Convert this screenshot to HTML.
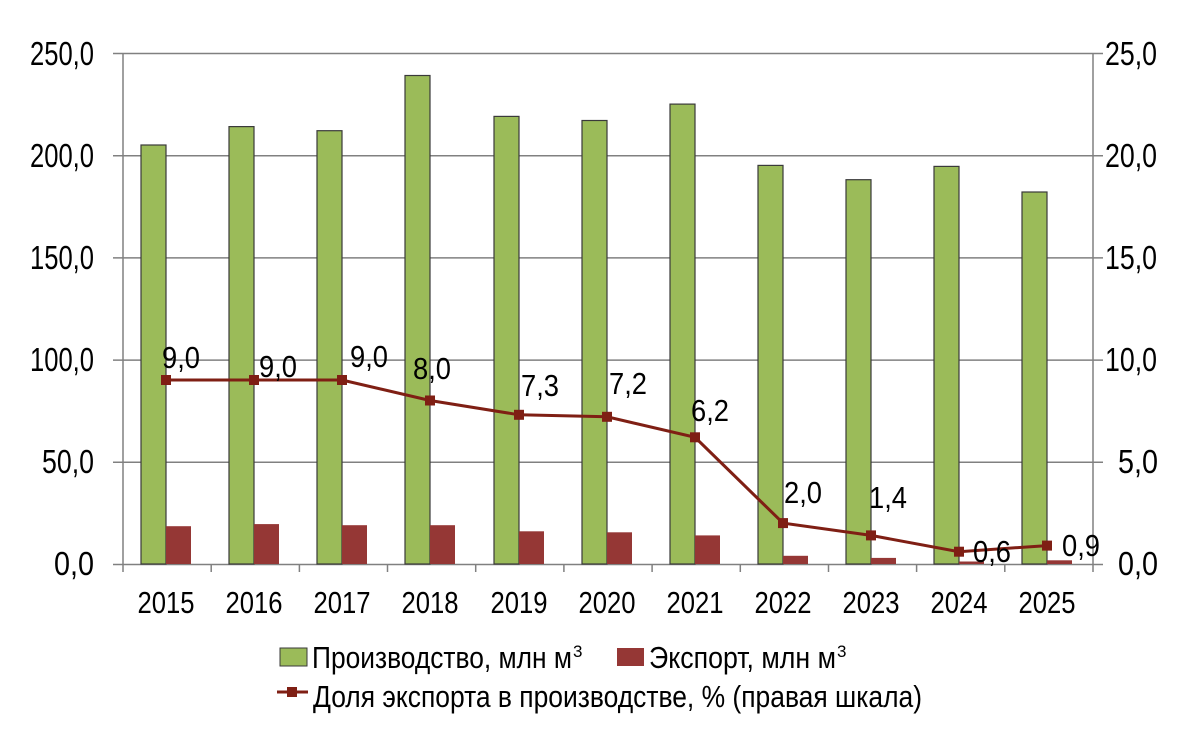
<!DOCTYPE html>
<html><head><meta charset="utf-8"><style>body{margin:0;background:#fff}svg{display:block}text{font-family:"Liberation Sans",sans-serif;fill:#000}</style></head>
<body>
<svg width="1200" height="730" viewBox="0 0 1200 730" xmlns="http://www.w3.org/2000/svg">
<g stroke="#808080" stroke-width="1.5">
<line x1="113" y1="53.5" x2="1103" y2="53.5"/>
<line x1="113" y1="155.7" x2="1103" y2="155.7"/>
<line x1="113" y1="257.9" x2="1103" y2="257.9"/>
<line x1="113" y1="360.1" x2="1103" y2="360.1"/>
<line x1="113" y1="462.3" x2="1103" y2="462.3"/>
<line x1="113" y1="564.5" x2="1103" y2="564.5"/>
<line x1="123" y1="53" x2="123" y2="572"/>
<line x1="1093" y1="53" x2="1093" y2="572"/>
<line x1="211.2" y1="564" x2="211.2" y2="572"/><line x1="299.4" y1="564" x2="299.4" y2="572"/><line x1="387.5" y1="564" x2="387.5" y2="572"/><line x1="475.7" y1="564" x2="475.7" y2="572"/><line x1="563.9" y1="564" x2="563.9" y2="572"/><line x1="652.1" y1="564" x2="652.1" y2="572"/><line x1="740.3" y1="564" x2="740.3" y2="572"/><line x1="828.5" y1="564" x2="828.5" y2="572"/><line x1="916.6" y1="564" x2="916.6" y2="572"/><line x1="1004.8" y1="564" x2="1004.8" y2="572"/>
</g>
<g stroke="#3a3a3a" stroke-width="1.2" fill="#9bbb59">
<rect x="141" y="145.0" width="25" height="419"/>
<rect x="229" y="126.6" width="25" height="437.4"/>
<rect x="317" y="130.7" width="25" height="433.3"/>
<rect x="405" y="75.5" width="25" height="488.5"/>
<rect x="494" y="116.4" width="25" height="447.6"/>
<rect x="582" y="120.5" width="25" height="443.5"/>
<rect x="670" y="104.1" width="25" height="459.9"/>
<rect x="758" y="165.4" width="25" height="398.6"/>
<rect x="846" y="179.7" width="25" height="384.3"/>
<rect x="934" y="166.4" width="25" height="397.6"/>
<rect x="1022" y="192.0" width="25" height="372"/>
</g>
<g fill="#953735">
<rect x="166" y="526.2" width="25" height="37.8"/>
<rect x="254" y="524.1" width="25" height="39.9"/>
<rect x="342" y="525.2" width="25" height="38.8"/>
<rect x="430" y="525.2" width="25" height="38.8"/>
<rect x="519" y="531.3" width="25" height="32.7"/>
<rect x="607" y="532.3" width="25" height="31.7"/>
<rect x="695" y="535.4" width="25" height="28.6"/>
<rect x="783" y="555.8" width="25" height="8.2"/>
<rect x="871" y="557.9" width="25" height="6.1"/>
<rect x="959" y="561.5" width="25" height="2.5"/>
<rect x="1047" y="560.3" width="25" height="3.7"/>
</g>
<polyline fill="none" stroke="#7f1f14" stroke-width="3" points="166,380 254,380 342,380 430,400.5 519,414.8 607,416.8 695,437.3 783,523.1 871,535.4 959,551.7 1047,545.6"/>
<g fill="#7f1f14">
<rect x="161" y="375" width="10" height="10"/><rect x="249" y="375" width="10" height="10"/><rect x="337" y="375" width="10" height="10"/><rect x="425" y="395.5" width="10" height="10"/><rect x="514" y="409.8" width="10" height="10"/><rect x="602" y="411.8" width="10" height="10"/><rect x="690" y="432.3" width="10" height="10"/><rect x="778" y="518.1" width="10" height="10"/><rect x="866" y="530.4" width="10" height="10"/><rect x="954" y="546.7" width="10" height="10"/><rect x="1042" y="540.6" width="10" height="10"/>
</g>
<g font-size="33">
<text x="94" y="65" text-anchor="end" textLength="64" lengthAdjust="spacingAndGlyphs">250,0</text>
<text x="94" y="167" text-anchor="end" textLength="64" lengthAdjust="spacingAndGlyphs">200,0</text>
<text x="94" y="269" text-anchor="end" textLength="64" lengthAdjust="spacingAndGlyphs">150,0</text>
<text x="94" y="371" text-anchor="end" textLength="64" lengthAdjust="spacingAndGlyphs">100,0</text>
<text x="94" y="473" text-anchor="end" textLength="52" lengthAdjust="spacingAndGlyphs">50,0</text>
<text x="94" y="575" text-anchor="end" textLength="40" lengthAdjust="spacingAndGlyphs">0,0</text>
<text x="1105" y="65" textLength="52" lengthAdjust="spacingAndGlyphs">25,0</text>
<text x="1105" y="167" textLength="52" lengthAdjust="spacingAndGlyphs">20,0</text>
<text x="1105" y="269" textLength="52" lengthAdjust="spacingAndGlyphs">15,0</text>
<text x="1105" y="371" textLength="52" lengthAdjust="spacingAndGlyphs">10,0</text>
<text x="1118" y="473" textLength="40" lengthAdjust="spacingAndGlyphs">5,0</text>
<text x="1118" y="575" textLength="40" lengthAdjust="spacingAndGlyphs">0,0</text>
</g>
<g font-size="31" text-anchor="middle">
<text x="166" y="613" textLength="57" lengthAdjust="spacingAndGlyphs">2015</text>
<text x="254" y="613" textLength="57" lengthAdjust="spacingAndGlyphs">2016</text>
<text x="342" y="613" textLength="57" lengthAdjust="spacingAndGlyphs">2017</text>
<text x="430" y="613" textLength="57" lengthAdjust="spacingAndGlyphs">2018</text>
<text x="519" y="613" textLength="57" lengthAdjust="spacingAndGlyphs">2019</text>
<text x="607" y="613" textLength="57" lengthAdjust="spacingAndGlyphs">2020</text>
<text x="695" y="613" textLength="57" lengthAdjust="spacingAndGlyphs">2021</text>
<text x="783" y="613" textLength="57" lengthAdjust="spacingAndGlyphs">2022</text>
<text x="871" y="613" textLength="57" lengthAdjust="spacingAndGlyphs">2023</text>
<text x="959" y="613" textLength="57" lengthAdjust="spacingAndGlyphs">2024</text>
<text x="1047" y="613" textLength="57" lengthAdjust="spacingAndGlyphs">2025</text>
</g>
<g font-size="31">
<text x="162" y="368" textLength="38" lengthAdjust="spacingAndGlyphs">9,0</text>
<text x="259" y="377" textLength="38" lengthAdjust="spacingAndGlyphs">9,0</text>
<text x="350" y="367" textLength="38" lengthAdjust="spacingAndGlyphs">9,0</text>
<text x="413" y="379" textLength="38" lengthAdjust="spacingAndGlyphs">8,0</text>
<text x="521" y="396" textLength="38" lengthAdjust="spacingAndGlyphs">7,3</text>
<text x="609" y="394" textLength="38" lengthAdjust="spacingAndGlyphs">7,2</text>
<text x="691" y="421" textLength="38" lengthAdjust="spacingAndGlyphs">6,2</text>
<text x="784" y="503" textLength="38" lengthAdjust="spacingAndGlyphs">2,0</text>
<text x="869" y="508" textLength="38" lengthAdjust="spacingAndGlyphs">1,4</text>
<text x="973" y="562" textLength="38" lengthAdjust="spacingAndGlyphs">0,6</text>
<text x="1062" y="556" textLength="38" lengthAdjust="spacingAndGlyphs">0,9</text>
</g>
<rect x="280" y="648" width="27" height="18" fill="#9bbb59" stroke="#3a3a3a" stroke-width="1"/>
<text x="312" y="668" font-size="31" textLength="260" lengthAdjust="spacingAndGlyphs">Производство, млн м</text>
<text x="573" y="657" font-size="17">3</text>
<rect x="617" y="648" width="27" height="18" fill="#953735"/>
<text x="649" y="668" font-size="31" textLength="187" lengthAdjust="spacingAndGlyphs">Экспорт, млн м</text>
<text x="837" y="657" font-size="17">3</text>
<line x1="277" y1="692" x2="308" y2="692" stroke="#7f1f14" stroke-width="3"/>
<rect x="287" y="687" width="10" height="10" fill="#7f1f14"/>
<text x="313" y="707" font-size="31" textLength="609" lengthAdjust="spacingAndGlyphs">Доля экспорта в производстве, % (правая шкала)</text>
</svg>
</body></html>
